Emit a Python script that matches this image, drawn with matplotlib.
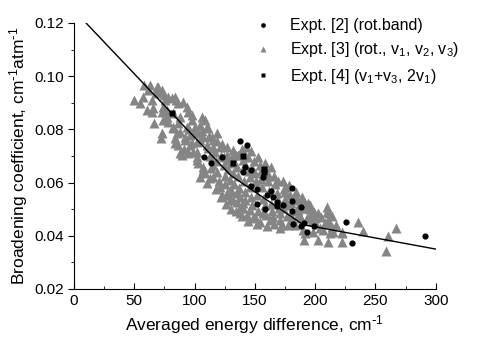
import numpy as np
import matplotlib
matplotlib.use('Agg')
import matplotlib.pyplot as plt
from matplotlib.ticker import MultipleLocator, FormatStrFormatter

plt.rcParams['font.family'] = ['Liberation Sans', 'DejaVu Sans']
plt.rcParams['mathtext.default'] = 'regular'

#  Expt. [2] (rot. band) -- black circles
x2 = [108, 113.5, 123, 137.7, 143.6, 141.5, 140, 146.8, 146.8, 152, 152,
      156.5, 160.3, 163, 164.8, 168, 168.3, 173.5, 158.4, 180.8, 180.8,
      180.8, 188, 181.4, 188, 191, 193, 199, 225.3, 230.8, 290.8]
y2 = [0.0695, 0.0673, 0.0697, 0.0757, 0.0742, 0.0660, 0.0641, 0.0647, 0.0586,
      0.0576, 0.0521, 0.0620, 0.0553, 0.0570, 0.0547, 0.0528, 0.0511, 0.0516,
      0.0500, 0.0578, 0.0532, 0.0494, 0.0509, 0.0444, 0.0437, 0.0449, 0.0415,
      0.0437, 0.0453, 0.0374, 0.0400]

#  Expt. [3] (rot., v1, v2, v3) -- gray triangles
x3 = [50, 54.7, 57.5, 58.3, 61.7, 60.3, 63, 64.4, 64.4, 65.8, 66.4, 67.7, 68.6,
      70, 71.3, 72.7, 72.7, 72.7, 72.2, 74, 74, 75, 75.5, 76.9, 76.9, 78.2,
      78.2, 81, 82.4, 82.4, 82.4, 83.8, 83.8, 83.8, 84.6, 85.2, 86.5, 86.5,
      86.5, 87.9, 88, 88, 89.3, 90.7, 92, 92, 93.5, 93.5, 94.8, 94.8, 94.8,
      96.2, 96.2, 97.6, 97.6, 97.6, 98.9, 100.4, 101.8, 101.8, 101.8, 103,
      104.5, 104.5, 104.5, 105.9, 107, 107, 107.2, 108.7, 108.7, 110, 110, 110,
      111.4, 111.4, 112.8, 114.2, 115.5, 115.5, 115.5, 115.5, 118.3, 121, 121,
      122, 126.6, 126.6, 129.4, 129.4, 132, 132, 135, 135, 137.7, 137.7, 140.4,
      140.4, 143.2, 146, 148.7, 150, 154, 157, 162.6, 165.3, 170.8, 171, 172.3,
      173.6, 175, 177.8, 180.6, 183.3, 186, 186, 190.2, 190.2, 191, 191.6,
      195.7, 195.7, 198.5, 202.6, 202.6, 204, 206.8, 208.2, 209.5, 209.5, 210,
      211, 211, 211.7, 212.3, 213.7, 215, 222, 222.5, 222.3, 235.8, 239.4,
      258.8, 260.7, 267,
      113, 114, 117, 118, 119, 120, 123, 124, 125, 125, 127, 128, 128, 129, 131,
      132, 133, 134, 135, 136, 137, 138, 139, 140, 141, 142, 142, 144, 145, 146,
      146, 147, 148, 149, 150, 151, 152, 153, 154, 155, 156, 157, 158, 159, 160,
      161, 162, 163, 164, 166, 167, 168, 169, 170, 171, 173, 174, 175, 176, 177,
      178, 179, 180, 181, 182, 184, 185, 187, 188, 189, 192, 193, 194, 197, 199,
      201, 205, 214, 217, 119, 123, 131, 127, 143, 147, 153, 158, 163,
      91, 99, 102, 95, 103, 106, 112,
      118, 122, 126, 130, 134, 139, 144, 152, 160, 166, 124, 130, 136, 142, 148,
      155, 161, 169, 176, 183, 190, 196, 200]
y3 = [0.0910, 0.0898, 0.0923, 0.0968, 0.0948, 0.0873, 0.0967, 0.0910, 0.0867,
      0.0879, 0.0823, 0.0938, 0.0958, 0.0960, 0.0942, 0.0948, 0.0867, 0.0785,
      0.0767, 0.0885, 0.0835, 0.0929, 0.0910, 0.0873, 0.0848, 0.0923, 0.0829,
      0.0917, 0.0860, 0.0810, 0.0804, 0.0923, 0.0767, 0.0748, 0.0910, 0.0785,
      0.0898, 0.0823, 0.0741, 0.0848, 0.0791, 0.0710, 0.0704, 0.0904, 0.0760,
      0.0773, 0.0885, 0.0810, 0.0867, 0.0716, 0.0710, 0.0779, 0.0741, 0.0854,
      0.0835, 0.0748, 0.0791, 0.0810, 0.0754, 0.0697, 0.0685, 0.0673, 0.0817,
      0.0760, 0.0622, 0.0848, 0.0660, 0.0647, 0.0773, 0.0835, 0.0635, 0.0810,
      0.0741, 0.0597, 0.0804, 0.0729, 0.0616, 0.0773, 0.0760, 0.0735, 0.0666,
      0.0622, 0.0785, 0.0735, 0.0585, 0.0700, 0.0704, 0.0560, 0.0572, 0.0535,
      0.0723, 0.0535, 0.0560, 0.0528, 0.0503, 0.0485, 0.0522, 0.0503, 0.0478,
      0.0497, 0.0466, 0.0472, 0.0453, 0.0485, 0.0460, 0.0472, 0.0485, 0.0428,
      0.0441, 0.0503, 0.0566, 0.0440, 0.0466, 0.0440, 0.0497, 0.0478, 0.0535,
      0.0422, 0.0384, 0.0410, 0.0500, 0.0478, 0.0415, 0.0487, 0.0384, 0.0428,
      0.0422, 0.0447, 0.0491, 0.0449, 0.0507, 0.0460, 0.0378, 0.0485, 0.0412,
      0.0434, 0.0415, 0.0410, 0.0378, 0.0415, 0.0453, 0.0419, 0.0344, 0.0399,
      0.0428,
      0.0700, 0.0655, 0.0715, 0.0680, 0.0640, 0.0605, 0.0745, 0.0665, 0.0625,
      0.0595, 0.0735, 0.0685, 0.0650, 0.0610, 0.0695, 0.0635, 0.0595, 0.0705,
      0.0660, 0.0625, 0.0580, 0.0545, 0.0725, 0.0685, 0.0605, 0.0565, 0.0535,
      0.0695, 0.0645, 0.0620, 0.0585, 0.0545, 0.0515, 0.0680, 0.0635, 0.0605,
      0.0555, 0.0495, 0.0665, 0.0615, 0.0585, 0.0540, 0.0515, 0.0480, 0.0640,
      0.0605, 0.0570, 0.0520, 0.0495, 0.0625, 0.0595, 0.0560, 0.0535, 0.0505,
      0.0460, 0.0605, 0.0575, 0.0540, 0.0515, 0.0475, 0.0590, 0.0555, 0.0525,
      0.0495, 0.0455, 0.0565, 0.0535, 0.0515, 0.0465, 0.0545, 0.0505, 0.0465,
      0.0525, 0.0455, 0.0490, 0.0445, 0.0470, 0.0475, 0.0440, 0.0755, 0.0555,
      0.0565, 0.0555, 0.0735, 0.0720, 0.0695, 0.0675, 0.0660,
      0.0725, 0.0715, 0.0715, 0.0800, 0.0785, 0.0795, 0.0775,
      0.0575, 0.0545, 0.0520, 0.0500, 0.0495, 0.0475, 0.0455, 0.0445, 0.0435,
      0.0445, 0.0695, 0.0675, 0.0705, 0.0665, 0.0655, 0.0645, 0.0625, 0.0605,
      0.0585, 0.0555, 0.0505, 0.0515, 0.0465]

#  Expt. [4] (v1+v3, 2v1) -- black squares
x4 = [81.5, 131.5, 140, 157.7, 157.7]
y4 = [0.0860, 0.0673, 0.0700, 0.0652, 0.0640]

#  model curve
xc = [10, 130, 190, 300]
yc = [0.1200, 0.0627, 0.0442, 0.0350]

fig = plt.figure(figsize=(4.82, 3.38), dpi=100)
ax = fig.add_axes([0.1535, 0.145, 0.7505, 0.787])

ax.plot(x3, y3, '^', color='#858585', ms=6.5, mec='none',
        label='Expt. [3] (rot., v$_1$, v$_2$, v$_3$)')
ax.plot(xc, yc, color='k', lw=1)
ax.plot(x2, y2, 'o', color='k', ms=4.5, mec='none', label='Expt. [2] (rot.band)')
ax.plot(x4, y4, 's', color='k', ms=4, mec='none',
        label='Expt. [4] (v$_1$+v$_3$, 2v$_1$)')

h, l = ax.get_legend_handles_labels()
order = [1, 0, 2]
ax.legend([h[i] for i in order], [l[i] for i in order], loc='upper right',
          bbox_to_anchor=(1.095, 1.06), frameon=False, fontsize=11.5,
          markerscale=0.75, handlelength=1.2, handletextpad=1.1,
          labelspacing=0.45, borderaxespad=0.3)

ax.set_xlim(0, 300)
ax.set_ylim(0.02, 0.12)
ax.xaxis.set_major_locator(MultipleLocator(50))
ax.xaxis.set_minor_locator(MultipleLocator(25))
ax.yaxis.set_major_locator(MultipleLocator(0.02))
ax.yaxis.set_minor_locator(MultipleLocator(0.01))
ax.yaxis.set_major_formatter(FormatStrFormatter('%.2f'))
ax.tick_params(axis='x', which='both', direction='in', labelsize=11)
ax.tick_params(axis='y', which='both', direction='out', labelsize=11)
ax.tick_params(which='major', length=4)
ax.tick_params(which='minor', length=2.5)
for s in ['top', 'right']:
    ax.spines[s].set_visible(False)

ax.set_xlabel(r'Averaged energy difference, cm$^{\text{-}1}$', fontsize=12.5, labelpad=4)
ax.set_ylabel(r'Broadening coefficient, cm$^{\text{-}1}$atm$^{\text{-}1}$',
              fontsize=12.5, labelpad=3)

fig.savefig('out.png', dpi=100)
